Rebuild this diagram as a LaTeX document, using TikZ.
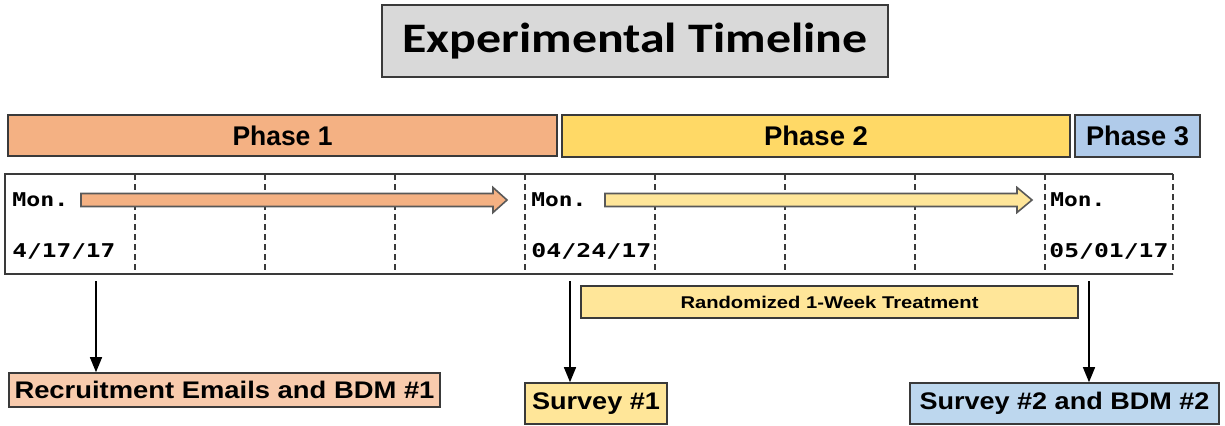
\documentclass[tikz,border=0pt]{standalone}
\usepackage{fontspec}
\setmainfont{Liberation Sans}
\newfontfamily\calib{Carlito}
\newfontfamily\vmono{DejaVu Sans Mono}
\usetikzlibrary{arrows.meta}
\definecolor{titlegray}{HTML}{D9D9D9}
\definecolor{edge}{HTML}{3A3A3A}
\definecolor{ph1}{HTML}{F4B183}
\definecolor{ph2}{HTML}{FFD966}
\definecolor{ph3}{HTML}{B0CBEA}
\definecolor{lightorange}{HTML}{F8CBAD}
\definecolor{lightyellow}{HTML}{FFE699}
\definecolor{lightblue}{HTML}{BDD7EE}
\definecolor{arrowedge}{HTML}{595959}
\newcommand\wtxt[3]{\resizebox{#1}{\height}{\fontsize{#2}{#2}\selectfont #3}}
\tikzset{
  box/.style={draw=edge, line width=0.8pt, inner sep=0pt, align=center},
  datelabel/.style={anchor=west, inner sep=0pt, font=\vmono\bfseries},
  downarrow/.style={-{Triangle[width=6pt,length=7.5pt]}, line width=0.7pt, black},
  blockarrow/.style={draw=arrowedge, line width=0.8pt, line join=miter}
}
\begin{document}
\begin{tikzpicture}[x=0.5pt,y=-0.5pt]
\useasboundingbox (0,0) rectangle (1225,425);
% title
\node[box, fill=titlegray, minimum width=253pt, minimum height=36pt] (title) at (635,41)
  {\wtxt{232.5pt}{21pt}{\calib\bfseries Experimental Timeline}};
% phases
\node[box, fill=ph1, minimum width=274.5pt, minimum height=20.5pt] (phase1) at (282.5,135.5)
  {\wtxt{50pt}{13.5pt}{\bfseries Phase 1}};
\node[box, fill=ph2, minimum width=254pt, minimum height=21pt] (phase2) at (816,136)
  {\wtxt{52pt}{13.5pt}{\bfseries Phase 2}};
\node[box, fill=ph3, minimum width=62.5pt, minimum height=21pt] (phase3) at (1137.5,136)
  {\wtxt{51.5pt}{13.5pt}{\bfseries Phase 3}};
% timeline table
\draw[line width=1pt, edge] (1173,174) -- (5,174) -- (5,274) -- (1173,274);
\foreach \x in {135,265,395,525,655,785,915,1045,1173}
  \draw[dashed, edge, line width=0.6pt, dash pattern=on 3pt off 2pt] (\x,174) -- (\x,274);
% block arrows
\filldraw[blockarrow, fill=ph1] (81,193.5) -- (493,193.5) -- (493,187.5) -- (507,200) -- (493,212.5) -- (493,206.5) -- (81,206.5) -- cycle;
\filldraw[blockarrow, fill=lightyellow] (605,193.5) -- (1017,193.5) -- (1017,187.5) -- (1032,200) -- (1017,212.5) -- (1017,206.5) -- (605,206.5) -- cycle;
% day labels
\node[datelabel] (mon1) at (12,200) {\wtxt{28pt}{9.5pt}{Mon.}};
\node[datelabel] (date1) at (12,251) {\wtxt{51.5pt}{9.5pt}{4/17/17}};
\node[datelabel] (mon2) at (531,200) {\wtxt{27.5pt}{9.5pt}{Mon.}};
\node[datelabel] (date2) at (531,251) {\wtxt{60pt}{9.5pt}{04/24/17}};
\node[datelabel] (mon3) at (1050,200) {\wtxt{27.5pt}{9.5pt}{Mon.}};
\node[datelabel] (date3) at (1049,251) {\wtxt{59.5pt}{9.5pt}{05/01/17}};
% treatment bar
\node[box, fill=lightyellow, minimum width=248.5pt, minimum height=16pt] (treat) at (829.5,302)
  {\wtxt{149pt}{8.5pt}{\bfseries Randomized 1-Week Treatment}};
% event boxes
\node[box, fill=lightorange, minimum width=215.5pt, minimum height=17pt] (recruit) at (224.5,390)
  {\wtxt{210pt}{12pt}{\bfseries Recruitment Emails and BDM \#1}};
\node[box, fill=lightyellow, minimum width=71pt, minimum height=20.5pt] (survey1) at (596,403.5)
  {\wtxt{64pt}{12pt}{\bfseries Survey \#1}};
\node[box, fill=lightblue, minimum width=154.5pt, minimum height=20.5pt] (survey2) at (1064.5,403.5)
  {\wtxt{145pt}{12pt}{\bfseries Survey \#2 and BDM \#2}};
% down arrows
\coordinate (s1) at (96,281);
\coordinate (s2) at (570,281);
\coordinate (s3) at (1089,281);
\draw[downarrow] (s1) -- (s1 |- recruit.north);
\draw[downarrow] (s2) -- (s2 |- survey1.north);
\draw[downarrow] (s3) -- (s3 |- survey2.north);
\end{tikzpicture}
\end{document}
